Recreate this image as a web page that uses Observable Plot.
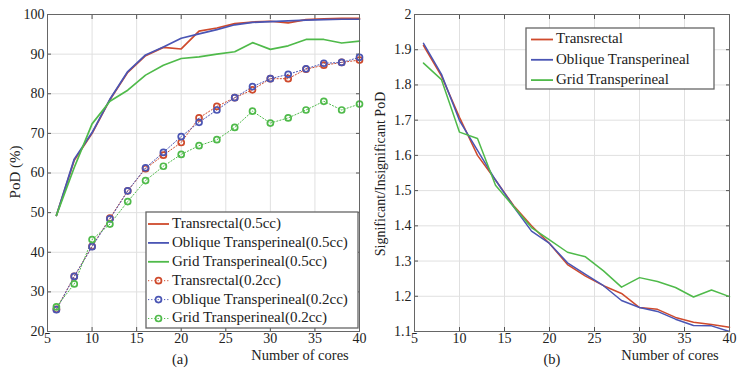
<!DOCTYPE html>
<html><head><meta charset="utf-8">
<script src="https://cdn.jsdelivr.net/npm/d3@7"></script>
<script src="https://cdn.jsdelivr.net/npm/@observablehq/plot@0.6"></script>
<style>
body{margin:0;background:#fff;}
#wrap{display:flex;width:742px;height:368px;overflow:hidden;}
svg{font-family:"Liberation Serif","Times New Roman",serif;}
</style></head><body><div id="wrap"></div>
<script>
// ---------- data ----------
const cores = [6,8,10,12,14,16,18,20,22,24,26,28,30,32,34,36,38,40];
const xTicks = [5,10,15,20,25,30,35,40];
const podTicks = [20,30,40,50,60,70,80,90,100];
const ratioTicks = [1.1,1.2,1.3,1.4,1.5,1.6,1.7,1.8,1.9,2];

const trans05   = [49.3,63.2,70.0,78.5,85.4,89.6,91.7,91.3,95.8,96.6,97.7,98.1,98.3,97.9,98.7,98.9,99.0,99.0];
const oblique05 = [49.3,63.5,70.2,78.6,85.6,89.8,91.8,94.0,95.1,96.2,97.4,98.0,98.2,98.4,98.6,98.7,98.8,98.8];
const grid05    = [49.3,61.4,72.4,78.1,80.9,84.7,87.2,88.9,89.3,90.0,90.6,92.9,91.2,92.1,93.7,93.7,92.8,93.3];
const trans02   = [25.6,33.9,41.5,48.6,55.5,61.1,64.5,67.7,73.9,76.8,79.0,81.0,83.8,83.8,86.2,87.2,87.9,88.5];
const oblique02 = [25.5,33.9,41.4,48.4,55.5,61.3,65.2,69.2,72.8,75.9,79.0,81.8,83.8,84.9,86.3,87.7,87.9,89.2];
const grid02    = [26.2,32.0,43.2,47.1,52.8,58.1,61.7,64.7,66.9,68.4,71.5,75.6,72.6,73.9,75.9,78.1,75.9,77.4];

const ratioTrans   = [1.912,1.825,1.708,1.600,1.530,1.458,1.400,1.350,1.290,1.257,1.230,1.208,1.168,1.163,1.140,1.126,1.120,1.112];
const ratioOblique = [1.918,1.830,1.699,1.614,1.530,1.455,1.385,1.350,1.295,1.262,1.230,1.188,1.168,1.157,1.135,1.117,1.116,1.100];
const ratioGrid    = [1.862,1.815,1.666,1.648,1.515,1.455,1.395,1.360,1.325,1.312,1.272,1.226,1.253,1.242,1.225,1.198,1.218,1.199];

const legendA = ["Transrectal(0.5cc)","Oblique Transperineal(0.5cc)","Grid Transperineal(0.5cc)",
                 "Transrectal(0.2cc)","Oblique Transperineal(0.2cc)","Grid Transperineal(0.2cc)"];
const legendB = ["Transrectal","Oblique Transperineal","Grid Transperineal"];

// ---------- style ----------
const RED = "#cf4a2c", BLUE = "#4a55b4", GREEN = "#4fba4a";
const colors = [RED, BLUE, GREEN];
const TXT = "#222";
const FONT = "'Liberation Serif', 'Times New Roman', serif";

const toRows = (vals, series) => vals.map((v, i) => ({cores: cores[i], value: v, series}));
const solidA = [...toRows(trans05, 0), ...toRows(oblique05, 1), ...toRows(grid05, 2)];
const dotA   = [...toRows(trans02, 0), ...toRows(oblique02, 1), ...toRows(grid02, 2)];
const ratioB = [...toRows(ratioTrans, 0), ...toRows(ratioOblique, 1), ...toRows(ratioGrid, 2)];

function axes(yTicks, yFmt) {
  return [
    Plot.gridX({ticks: xTicks, stroke: "#e0e0e0", strokeOpacity: 1}),
    Plot.gridY({ticks: yTicks, stroke: "#e0e0e0", strokeOpacity: 1}),
    Plot.axisX({ticks: xTicks, tickSize: -4, tickPadding: 6, label: null, stroke: "#555", fill: TXT}),
    Plot.axisX({anchor: "top", ticks: xTicks, tickSize: -4, tickFormat: () => "", label: null, stroke: "#555"}),
    Plot.axisY({ticks: yTicks, tickSize: -4, tickPadding: 7, tickFormat: yFmt, label: null, stroke: "#555", fill: TXT}),
    Plot.axisY({anchor: "right", ticks: yTicks, tickSize: -4, tickFormat: () => "", label: null, stroke: "#555"})
  ];
}

const base = {width: 371, height: 368, marginTop: 14, marginBottom: 37,
  style: {fontFamily: FONT, fontSize: "14px", color: TXT, background: "white", overflow: "visible"}};

// ---------- panel (a) ----------
const chartA = Plot.plot({
  ...base, marginLeft: 47, marginRight: 12,
  x: {domain: [5, 40]},
  y: {domain: [20, 100]},
  marks: [
    ...axes(podTicks, d => String(d)),
    Plot.line(dotA, {x: "cores", y: "value", z: "series", stroke: d => colors[d.series], strokeWidth: 1, strokeDasharray: "1.2,2"}),
    Plot.dot(dotA, {x: "cores", y: "value", stroke: d => colors[d.series], r: 3, strokeWidth: 1.7, fill: "none"}),
    Plot.line(solidA, {x: "cores", y: "value", z: "series", stroke: d => colors[d.series], strokeWidth: 1.7}),
    Plot.frame({stroke: "#666"})
  ]
});

// ---------- panel (b) ----------
const chartB = Plot.plot({
  ...base, marginLeft: 43, marginRight: 13,
  x: {domain: [5, 40]},
  y: {domain: [1.1, 2]},
  marks: [
    ...axes(ratioTicks, d => String(+d.toFixed(1))),
    Plot.line(ratioB, {x: "cores", y: "value", z: "series", stroke: d => colors[d.series], strokeWidth: 1.5}),
    Plot.frame({stroke: "#666"})
  ]
});

const wrap = document.getElementById("wrap");
wrap.append(chartA, chartB);

// ---------- annotations & legends ----------
function decorate(chart, o) {
  const svg = d3.select(chart.tagName.toLowerCase() === "svg" ? chart : chart.querySelector("svg"));
  const t = (x, y, s, extra = {}) => {
    const el = svg.append("text").attr("x", x).attr("y", y).text(s)
      .attr("fill", TXT).attr("font-family", FONT).attr("font-size", extra.size || 14.5)
      .attr("text-anchor", extra.anchor || "middle").attr("dominant-baseline", "middle");
    if (extra.rotate) el.attr("transform", `rotate(-90,${x},${y})`);
    return el;
  };
  t(o.ylx, o.yly, o.ylabel, {rotate: true, size: o.ylsize});
  t(o.xlx, 357, "Number of cores");
  t(o.tagx, 361, o.tag);
  // legend
  const L = o.legend;
  svg.append("rect").attr("x", L.x).attr("y", L.y).attr("width", L.w).attr("height", L.h)
    .attr("fill", "white").attr("stroke", "#666").attr("stroke-width", 1.3);
  L.names.forEach((name, i) => {
    const cy = L.y0 + i * L.dy;
    const c = colors[i % 3];
    const dotted = i >= 3;
    svg.append("line").attr("x1", L.lx1).attr("x2", L.lx2).attr("y1", cy).attr("y2", cy)
      .attr("stroke", c).attr("stroke-width", dotted ? 1 : 1.8)
      .attr("stroke-dasharray", dotted ? "1.2,2" : null);
    if (dotted) svg.append("circle").attr("cx", (L.lx1 + L.lx2) / 2).attr("cy", cy).attr("r", 3)
      .attr("fill", "none").attr("stroke", c).attr("stroke-width", 1.7);
    t(L.tx, cy + 0.5, name, {anchor: "start", size: 15});
  });
}

decorate(chartA, {
  ylabel: "PoD (%)", ylx: 17, yly: 172, ylsize: 15,
  xlx: 300, tag: "(a)", tagx: 180,
  legend: {x: 146, y: 212, w: 212, h: 116, names: legendA, y0: 224, dy: 18.9, lx1: 148, lx2: 169, tx: 172}
});
decorate(chartB, {
  ylabel: "Significant/Insignificant PoD", ylx: 11, yly: 174, ylsize: 14,
  xlx: 299, tag: "(b)", tagx: 181,
  legend: {x: 155, y: 28, w: 188, h: 61, names: legendB, y0: 39.5, dy: 20.3, lx1: 160, lx2: 182, tx: 185}
});
</script></body></html>
